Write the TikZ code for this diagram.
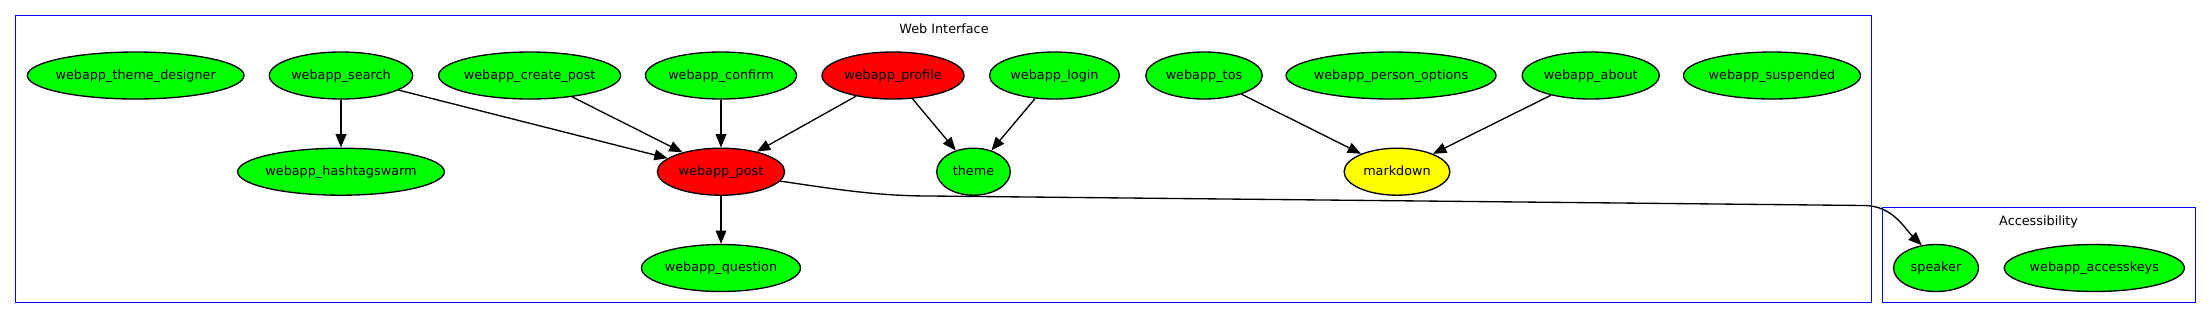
\documentclass[tikz,border=0pt]{standalone}
\usepackage{fontspec}
\setmainfont{DejaVu Sans}
\usetikzlibrary{shapes.geometric,arrows.meta}
\definecolor{gvgreen}{RGB}{0,255,0}
\definecolor{gvred}{RGB}{255,0,0}
\definecolor{gvyellow}{RGB}{255,255,0}
\definecolor{gvblue}{RGB}{0,0,255}
\tikzset{
  gnode/.style={ellipse, draw=black, line width=1pt, inner sep=0pt,
    minimum height=35.25pt, text height=7.2pt, text depth=1.6pt,
    font=\fontsize{9.6}{11}\selectfont},
  gedge/.style={draw=black, line width=1pt, -{Triangle[length=10pt,width=8pt]}},
  cluster/.style={draw=gvblue, line width=1pt},
  clabel/.style={inner sep=0pt, text height=7.2pt, text depth=1.6pt,
    font=\fontsize{9.6}{11}\selectfont},
}
\newcommand{\gvnode}[5]{\node[gnode, fill=#4, minimum width=#5pt] (#1) at (#2) {\makebox[0pt]{#3}};}
\begin{document}
\begin{tikzpicture}[x=0.75pt,y=-0.75pt]
\useasboundingbox (0,0) rectangle (2212,319);
% clusters
\draw[cluster] (15.6,15.7) rectangle (1871.8,302.7);
\node[clabel] (lweb) at (944,29.6) {Web Interface};
\draw[cluster] (1882.5,207.7) rectangle (2195.7,302.7);
\node[clabel] (lacc) at (2038.6,221.5) {Accessibility};
% row 1
\gvnode{designer}{135.7,75.5}{webapp\_theme\_designer}{gvgreen}{162.5}
\gvnode{search}{341,75.5}{webapp\_search}{gvgreen}{107.5}
\gvnode{createpost}{529.6,75.5}{webapp\_create\_post}{gvgreen}{136.5}
\gvnode{confirm}{721,75.5}{webapp\_confirm}{gvgreen}{113.25}
\gvnode{profile}{893,75.5}{webapp\_profile}{gvred}{106.5}
\gvnode{login}{1054.5,75.5}{webapp\_login}{gvgreen}{97.5}
\gvnode{tos}{1204,75.5}{webapp\_tos}{gvgreen}{87.4}
\gvnode{personopt}{1391,75.5}{webapp\_person\_options}{gvgreen}{157.5}
\gvnode{about}{1590.7,75.5}{webapp\_about}{gvgreen}{102.75}
\gvnode{suspended}{1772,75.5}{webapp\_suspended}{gvgreen}{132.75}
% row 2
\gvnode{hashtag}{341,171.7}{webapp\_hashtagswarm}{gvgreen}{155}
\gvnode{post}{721,171.7}{webapp\_post}{gvred}{95.5}
\gvnode{theme}{973.5,171.7}{theme}{gvgreen}{55.2}
\gvnode{markdown}{1397,171.7}{markdown}{gvyellow}{79.3}
% row 3
\gvnode{question}{721,268}{webapp\_question}{gvgreen}{119.25}
\gvnode{speaker}{1936,268}{speaker}{gvgreen}{63.75}
\gvnode{accesskeys}{2094.3,268}{webapp\_accesskeys}{gvgreen}{135}
% edges
\draw[gedge] (search) -- (hashtag);
\draw[gedge] (search) -- (post);
\draw[gedge] (createpost) -- (post);
\draw[gedge] (confirm) -- (post);
\draw[gedge] (profile) -- (post);
\draw[gedge] (profile) -- (theme);
\draw[gedge] (login) -- (theme);
\draw[gedge] (tos) -- (markdown);
\draw[gedge] (about) -- (markdown);
\draw[gedge] (post) -- (question);
\coordinate (e1) at (930,196);
\coordinate (e2) at (1865,205.5);
\draw[gedge] (post.-9) .. controls (840,190) and (880,196) .. (e1)
  -- (e2) .. controls (1893,206) and (1905,229) .. (speaker.122);
\end{tikzpicture}
\end{document}
